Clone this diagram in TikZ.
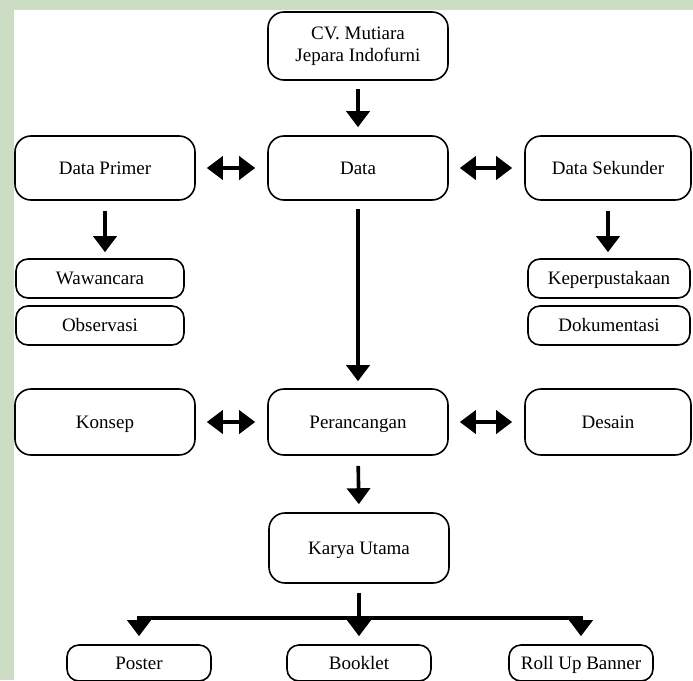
\documentclass[tikz,border=0pt]{standalone}
\usepackage{fontspec}
\setmainfont{Liberation Serif}
\usepackage{tikz}
\usetikzlibrary{arrows.meta}
\definecolor{wmgreen}{RGB}{204,221,196}
\tikzset{
  font={\fontsize{19pt}{22pt}\selectfont}}

\begin{document}
\begin{tikzpicture}[x=1pt,y=1pt]
\tikzstyle{bigbox}=[draw, line width=1.6pt, rounded corners=16pt, minimum width=180pt, minimum height=66pt, align=center, inner sep=0pt, text height=14pt, text depth=1.5pt]
\tikzstyle{smallbox}=[draw, line width=1.6pt, rounded corners=12pt, minimum width=168pt, minimum height=39pt, inner sep=0pt, text height=14pt, text depth=1.5pt]
\tikzstyle{arr}=[line width=3.6pt, -{Triangle[width=23pt,length=16pt]}]
\tikzstyle{dblarr}=[line width=3.6pt, {Triangle[width=23pt,length=16pt]}-{Triangle[width=23pt,length=16pt]}, shorten <=11pt, shorten >=12pt]
\useasboundingbox (0,0) rectangle (693,-680);
\fill [wmgreen] (0,0) rectangle (693,-680);
\fill [white] (14,-10) rectangle (693,-680);
% top
\node [bigbox, minimum height=68pt, text height=, text depth=] (cv) at (358,-46) {CV. Mutiara\\Jepara Indofurni};
\node [bigbox, minimum height=64pt] (data) at (358,-168) {Data};
\node [bigbox, minimum height=64pt] (primer) at (105,-168) {Data Primer};
\node [bigbox, minimum height=64pt, minimum width=166pt] (sekunder) at (608,-168) {Data Sekunder};
% data lists
\node [smallbox] (wawancara) at (100,-278.5) {Wawancara};
\node [smallbox] (observasi) at (100,-325.5) {Observasi};
\node [smallbox, minimum width=162pt] (pustaka) at (609,-278.5) {Keperpustakaan};
\node [smallbox, minimum width=162pt] (dokumentasi) at (609,-325.5) {Dokumentasi};
% middle
\node [bigbox] (konsep) at (105,-422) {Konsep};
\node [bigbox] (rancang) at (358,-422) {Perancangan};
\node [bigbox, minimum width=166pt] (desain) at (608,-422) {Desain};
\node [bigbox, minimum height=70pt] (karya) at (359,-548) {Karya Utama};
% media
\node [smallbox, minimum width=144pt, minimum height=36pt] (poster) at (139,-663) {Poster};
\node [smallbox, minimum width=144pt, minimum height=36pt] (booklet) at (359,-663) {Booklet};
\node [smallbox, minimum width=144pt, minimum height=36pt] (rollup) at (581,-663) {Roll Up Banner};
% arrows
\draw [arr, shorten <=8pt, shorten >=8pt] (cv.south) -- (data.north);
\draw [arr, shorten <=8pt, shorten >=7pt] (data.south) -- (rancang.north);
\draw [arr, shorten <=10pt, shorten >=6pt] (primer.south) -- (primer.south |- wawancara.north);
\draw [arr, shorten <=10pt, shorten >=6pt] (sekunder.south) -- (sekunder.south |- pustaka.north);
\draw [dblarr] (primer.east) -- (data.west);
\draw [dblarr] (data.east) -- (sekunder.west);
\draw [dblarr] (konsep.east) -- (rancang.west);
\draw [dblarr] (rancang.east) -- (desain.west);
\draw [arr, shorten <=10pt, shorten >=8pt] (rancang.south) -- (karya.north);
\draw [line width=3.6pt] ([yshift=-9pt]karya.south) -- ++(0,-25) coordinate (bus);
\draw [line width=3.6pt, line cap=rect] (bus -| poster) -- (bus -| rollup);
\draw [arr, shorten >=8pt] (bus -| poster) -- (poster.north);
\draw [arr, shorten >=8pt] (bus) -- (booklet.north);
\draw [arr, shorten >=8pt] (bus -| rollup) -- (rollup.north);
\end{tikzpicture}
\end{document}
